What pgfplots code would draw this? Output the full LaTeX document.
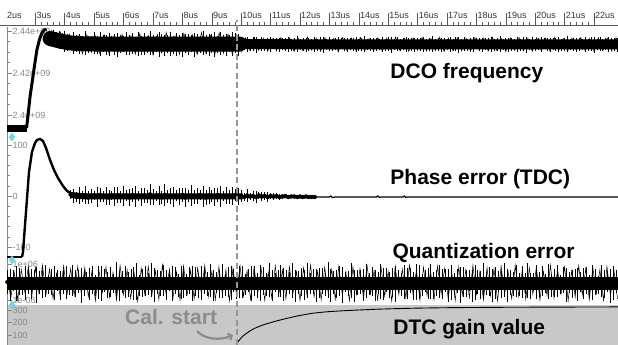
\documentclass[border=0pt]{standalone}
\usepackage{pgfplots}
\pgfplotsset{compat=1.18}
\usepackage{pgfplotstable}
\usepackage{fontspec}
\setmainfont{Liberation Sans}
\usetikzlibrary{arrows.meta}
\definecolor{tickgray}{RGB}{135,135,135}
\definecolor{panelgray}{RGB}{200,200,200}
\definecolor{dashgray}{RGB}{150,150,150}
\definecolor{calgray}{RGB}{140,140,140}
\definecolor{markcyan}{RGB}{110,215,230}

% DCO frequency (MHz): spikes, centre c, half-length e
\pgfplotstableread[row sep=\\]{
t c e\\
3.5 2437.4 2.5\\ 3.6 2436.9 3.8\\ 3.7 2436.3 3.2\\ 3.8 2435.7 4.5\\ 3.9 2435.3 3.6\\ 4.0 2435.0 5.0\\ 4.1 2434.7 4.1\\ 4.2 2434.4 3.4\\
4.3 2434.2 5.3\\ 4.4 2434.1 4.0\\ 4.5 2434.0 4.8\\ 4.6 2433.9 3.5\\ 4.7 2434.3 5.6\\ 4.8 2433.5 4.2\\ 4.9 2433.9 3.7\\ 5.0 2434.2 5.1\\
5.1 2433.4 4.4\\ 5.2 2433.8 5.9\\ 5.3 2434.0 3.9\\ 5.4 2433.3 4.7\\ 5.5 2433.7 5.4\\ 5.6 2434.1 3.6\\ 5.7 2433.6 4.9\\ 5.8 2433.2 5.7\\
5.9 2434.0 4.3\\ 6.0 2433.7 3.8\\ 6.1 2433.9 5.5\\ 6.2 2433.3 4.6\\ 6.3 2434.2 5.0\\ 6.4 2433.6 3.7\\ 6.5 2433.8 5.8\\ 6.6 2433.1 4.4\\
6.7 2434.0 5.2\\ 6.8 2433.5 4.0\\ 6.9 2434.3 5.6\\ 7.0 2433.4 4.7\\ 7.1 2433.9 3.9\\ 7.2 2433.6 6.0\\ 7.3 2434.1 4.5\\ 7.4 2433.2 5.1\\
7.5 2433.8 4.1\\ 7.6 2434.0 5.7\\ 7.7 2433.5 4.3\\ 7.8 2433.7 5.4\\ 7.9 2434.2 3.8\\ 8.0 2433.3 5.9\\ 8.1 2433.9 4.6\\ 8.2 2433.6 5.0\\
8.3 2434.1 4.2\\ 8.4 2433.4 5.6\\ 8.5 2433.8 4.8\\ 8.6 2433.5 3.9\\ 8.7 2434.3 5.8\\ 8.8 2433.6 4.4\\ 8.9 2433.2 5.3\\ 9.0 2434.0 4.7\\
9.1 2433.7 5.9\\ 9.2 2433.4 4.1\\ 9.3 2434.1 5.5\\ 9.4 2433.8 4.5\\ 9.5 2433.3 5.2\\ 9.6 2433.9 4.0\\ 9.7 2433.6 5.7\\ 9.8 2434.2 4.8\\
9.9 2433.5 5.3\\
10.0 2433.8 3.1\\ 10.1 2433.4 2.6\\ 10.2 2433.7 3.6\\ 10.3 2433.5 2.9\\ 10.4 2433.9 3.3\\ 10.5 2433.3 3.8\\ 10.6 2433.6 2.5\\ 10.7 2433.8 3.4\\
10.8 2433.4 3.0\\ 10.9 2433.7 2.8\\ 11.0 2433.5 3.7\\ 11.1 2433.9 2.6\\ 11.2 2433.6 3.2\\ 11.3 2433.3 3.5\\ 11.4 2433.8 2.9\\ 11.5 2433.5 3.0\\
11.6 2433.7 3.6\\ 11.7 2433.4 2.7\\ 11.8 2433.6 3.3\\ 11.9 2433.9 3.8\\ 12.0 2433.5 2.5\\ 12.1 2433.7 3.1\\ 12.2 2433.4 3.4\\ 12.3 2433.8 3.1\\
12.4 2433.4 2.6\\ 12.5 2433.7 3.6\\ 12.6 2433.5 2.9\\ 12.7 2433.9 3.3\\ 12.8 2433.3 3.8\\ 12.9 2433.6 2.5\\ 13.0 2433.8 3.4\\ 13.1 2433.4 3.0\\
13.2 2433.7 2.8\\ 13.3 2433.5 3.7\\ 13.4 2433.9 2.6\\ 13.5 2433.6 3.2\\ 13.6 2433.3 3.5\\ 13.7 2433.8 2.9\\ 13.8 2433.5 3.0\\ 13.9 2433.7 3.6\\
14.0 2433.4 2.7\\ 14.1 2433.6 3.3\\ 14.2 2433.9 3.8\\ 14.3 2433.5 2.5\\ 14.4 2433.7 3.1\\ 14.5 2433.4 3.4\\ 14.6 2433.8 3.1\\ 14.7 2433.4 2.6\\
14.8 2433.7 3.6\\ 14.9 2433.5 2.9\\ 15.0 2433.9 3.3\\ 15.1 2433.3 3.8\\ 15.2 2433.6 2.5\\ 15.3 2433.8 3.4\\ 15.4 2433.4 3.0\\ 15.5 2433.7 2.8\\
15.6 2433.5 3.7\\ 15.7 2433.9 2.6\\ 15.8 2433.6 3.2\\ 15.9 2433.3 3.5\\ 16.0 2433.8 2.9\\ 16.1 2433.5 3.0\\ 16.2 2433.7 3.6\\ 16.3 2433.4 2.7\\
16.4 2433.6 3.3\\ 16.5 2433.9 3.8\\ 16.6 2433.5 2.5\\ 16.7 2433.7 3.1\\ 16.8 2433.4 3.4\\ 16.9 2433.8 3.1\\ 17.0 2433.4 2.6\\ 17.1 2433.7 3.6\\
17.2 2433.5 2.9\\ 17.3 2433.9 3.3\\ 17.4 2433.3 3.8\\ 17.5 2433.6 2.5\\ 17.6 2433.8 3.4\\ 17.7 2433.4 3.0\\ 17.8 2433.7 2.8\\ 17.9 2433.5 3.7\\
18.0 2433.9 2.6\\ 18.1 2433.6 3.2\\ 18.2 2433.3 3.5\\ 18.3 2433.8 2.9\\ 18.4 2433.5 3.0\\ 18.5 2433.7 3.6\\ 18.6 2433.4 2.7\\ 18.7 2433.6 3.3\\
18.8 2433.9 3.8\\ 18.9 2433.5 2.5\\ 19.0 2433.7 3.1\\ 19.1 2433.4 3.4\\ 19.2 2433.8 3.1\\ 19.3 2433.4 2.6\\ 19.4 2433.7 3.6\\ 19.5 2433.5 2.9\\
19.6 2433.9 3.3\\ 19.7 2433.3 3.8\\ 19.8 2433.6 2.5\\ 19.9 2433.8 3.4\\ 20.0 2433.4 3.0\\ 20.1 2433.7 2.8\\ 20.2 2433.5 3.7\\ 20.3 2433.9 2.6\\
20.4 2433.6 3.2\\ 20.5 2433.3 3.5\\ 20.6 2433.8 2.9\\ 20.7 2433.5 3.0\\ 20.8 2433.7 3.6\\ 20.9 2433.4 2.7\\ 21.0 2433.6 3.3\\ 21.1 2433.9 3.8\\
21.2 2433.5 2.5\\ 21.3 2433.7 3.1\\ 21.4 2433.4 3.4\\ 21.5 2433.8 3.1\\ 21.6 2433.4 2.6\\ 21.7 2433.7 3.6\\ 21.8 2433.5 2.9\\ 21.9 2433.9 3.3\\
22.0 2433.3 3.8\\ 22.1 2433.6 2.5\\ 22.2 2433.8 3.4\\ 22.3 2433.4 3.0\\ 22.4 2433.7 2.8\\ 22.5 2433.5 3.7\\ 22.6 2433.9 2.6\\ 22.7 2433.6 3.2\\
22.8 2433.3 3.5\\
}\dcotab

% DCO frequency (MHz): in-between ripple
\pgfplotstableread[row sep=\\]{
t f\\
3.55 2440.6\\ 3.70 2433.1\\ 3.85 2439.4\\ 4.00 2430.8\\ 4.15 2438.6\\ 4.30 2429.7\\ 4.45 2437.6\\ 4.60 2429.1\\
4.75 2438.2\\ 4.90 2429.8\\ 5.05 2437.6\\ 5.20 2428.8\\ 5.35 2438.0\\ 5.50 2429.4\\ 5.65 2437.3\\ 5.80 2429.2\\
5.95 2438.4\\ 6.10 2429.9\\ 6.25 2437.7\\ 6.40 2429.0\\ 6.55 2438.8\\ 6.70 2429.6\\ 6.85 2437.8\\ 7.00 2428.6\\
7.15 2438.3\\ 7.30 2429.8\\ 7.45 2439.2\\ 7.60 2429.3\\ 7.75 2437.6\\ 7.90 2428.9\\ 8.05 2438.9\\ 8.20 2429.7\\
8.35 2438.1\\ 8.50 2428.8\\ 8.65 2439.3\\ 8.80 2429.5\\ 8.95 2437.8\\ 9.10 2428.6\\ 9.25 2439.1\\ 9.40 2429.4\\
9.55 2438.5\\ 9.70 2428.9\\ 9.85 2438.2\\ 10.00 2430.0\\ 10.15 2436.8\\ 10.30 2430.6\\ 10.45 2437.0\\ 10.60 2430.8\\
10.75 2436.6\\ 10.90 2430.3\\ 11.05 2436.3\\ 11.20 2430.5\\ 11.35 2436.9\\ 11.50 2430.7\\ 11.65 2436.7\\ 11.80 2430.2\\
11.95 2436.4\\ 12.10 2430.6\\ 12.25 2437.1\\ 12.40 2430.9\\ 12.55 2436.6\\ 12.70 2430.3\\ 12.85 2436.8\\ 13.00 2430.7\\
13.15 2436.5\\ 13.30 2430.1\\ 13.45 2436.9\\ 13.60 2430.6\\ 13.75 2436.6\\ 13.90 2430.8\\ 14.05 2437.0\\ 14.20 2430.4\\
14.35 2436.4\\ 14.50 2430.5\\ 14.65 2436.8\\ 14.80 2430.2\\ 14.95 2436.6\\ 15.10 2430.7\\ 15.25 2437.1\\ 15.40 2430.6\\
15.55 2436.5\\ 15.70 2430.3\\ 15.85 2436.7\\ 16.00 2430.8\\ 16.15 2436.9\\ 16.30 2430.4\\ 16.45 2436.4\\ 16.60 2430.6\\
16.75 2437.0\\ 16.90 2430.2\\ 17.05 2436.6\\ 17.20 2430.7\\ 17.35 2436.8\\ 17.50 2430.5\\ 17.65 2436.5\\ 17.80 2430.3\\
17.95 2436.9\\ 18.10 2430.8\\ 18.25 2436.6\\ 18.40 2430.4\\ 18.55 2437.0\\ 18.70 2430.6\\ 18.85 2436.4\\ 19.00 2430.2\\
19.15 2436.7\\ 19.30 2430.7\\ 19.45 2436.9\\ 19.60 2430.5\\ 19.75 2436.5\\ 19.90 2430.3\\ 20.05 2436.8\\ 20.20 2430.8\\
20.35 2436.6\\ 20.50 2430.4\\ 20.65 2437.0\\ 20.80 2430.6\\ 20.95 2436.5\\ 21.10 2430.2\\ 21.25 2436.7\\ 21.40 2430.7\\
21.55 2436.9\\ 21.70 2430.5\\ 21.85 2436.4\\ 22.00 2430.3\\ 22.15 2436.8\\ 22.30 2430.7\\ 22.45 2436.6\\ 22.60 2430.4\\
22.75 2436.9\\ 22.90 2430.6\\
}\dcozig

% Phase error (TDC): spikes, centre c, half-length e
\pgfplotstableread[row sep=\\]{
t c e\\
4.2 3 8\\ 4.3 0 13\\ 4.4 -2 9\\ 4.5 1 16\\ 4.6 -1 10\\ 4.7 2 18\\ 4.8 -3 12\\ 4.9 0 14\\ 5.0 1 9\\ 5.1 -2 20\\
5.2 2 13\\ 5.3 -1 10\\ 5.4 0 17\\ 5.5 -3 14\\ 5.6 1 8\\ 5.7 -1 18\\ 5.8 2 16\\ 5.9 -2 12\\ 6.0 0 20\\ 6.1 1 10\\
6.2 -3 16\\ 6.3 2 13\\ 6.4 -1 21\\ 6.5 0 9\\ 6.6 -2 17\\ 6.7 1 14\\ 6.8 -1 12\\ 6.9 3 20\\ 7.0 -2 16\\ 7.1 0 10\\
7.2 1 18\\ 7.3 -3 13\\ 7.4 2 21\\ 7.5 -1 12\\ 7.6 0 16\\ 7.7 -2 20\\ 7.8 1 10\\ 7.9 -1 17\\ 8.0 2 14\\ 8.1 -3 18\\
8.2 0 12\\ 8.3 1 21\\ 8.4 -2 13\\ 8.5 0 16\\ 8.6 2 10\\ 8.7 -1 20\\ 8.8 -3 14\\ 8.9 1 17\\ 9.0 0 12\\ 9.1 -2 18\\
9.2 2 13\\ 9.3 -1 21\\ 9.4 0 10\\ 9.5 1 16\\ 9.6 -2 14\\ 9.7 0 18\\ 9.8 2 12\\ 9.9 -1 17\\
10.0 0 11\\ 10.1 -2 8\\ 10.2 1 12\\ 10.3 -1 7\\ 10.4 0 10\\ 10.5 -2 11\\ 10.6 1 6\\ 10.7 -1 8\\ 10.8 0 7\\ 10.9 -2 9\\
11.0 0 6\\ 11.1 -1 7\\ 11.2 0 5\\ 11.3 -2 6\\ 11.4 -1 5\\ 11.5 0 4\\ 11.6 -2 4\\ 11.7 -1 3\\ 11.8 -1 2.5\\ 11.9 -2 3\\
12.0 -1 2\\ 12.1 -2 2.5\\ 12.2 -1 1.5\\ 12.3 -2 2\\ 12.4 -2 1.5\\ 12.5 -2 1\\
}\phtab

% Quantization error: spikes, centre c, half-length e
\pgfplotstableread[row sep=\\]{
t c e\\
2.05 0.05 0.62\\ 2.15 -0.10 0.85\\ 2.25 0.12 0.55\\ 2.35 -0.03 0.91\\ 2.45 0.08 0.70\\ 2.55 -0.14 0.48\\ 2.65 0.00 0.88\\ 2.75 0.10 0.66\\
2.85 -0.07 0.79\\ 2.95 0.14 0.52\\ 3.05 -0.12 0.94\\ 3.15 0.03 0.60\\ 3.25 -0.05 0.73\\ 3.35 0.11 0.83\\ 3.45 -0.09 0.50\\ 3.55 0.06 0.68\\
3.65 -0.01 0.90\\ 3.75 0.13 0.57\\ 3.85 -0.15 0.76\\ 3.95 0.04 0.64\\ 4.05 0.05 0.87\\ 4.15 -0.10 0.53\\ 4.25 0.12 0.81\\ 4.35 -0.03 0.71\\
4.45 0.08 0.59\\ 4.55 -0.14 0.93\\ 4.65 0.00 0.67\\ 4.75 0.10 0.49\\ 4.85 -0.07 0.84\\ 4.95 0.14 0.74\\ 5.05 -0.12 0.56\\ 5.15 0.03 0.89\\
5.25 -0.05 0.92\\ 5.35 0.11 0.61\\ 5.45 -0.09 0.69\\ 5.55 0.06 0.80\\ 5.65 -0.01 0.51\\ 5.75 0.13 0.95\\ 5.85 -0.15 0.78\\ 5.95 0.04 0.58\\
6.05 0.05 0.86\\ 6.15 -0.10 0.66\\ 6.25 0.12 0.63\\ 6.35 -0.03 0.87\\ 6.45 0.08 0.95\\ 6.55 -0.14 0.54\\ 6.65 0.00 0.72\\ 6.75 0.10 0.77\\
6.85 -0.07 0.58\\ 6.95 0.14 0.90\\ 7.05 -0.12 0.89\\ 7.15 0.03 0.63\\ 7.25 -0.05 0.66\\ 7.35 0.11 0.82\\ 7.45 -0.09 0.80\\ 7.55 0.06 0.50\\
7.65 -0.01 0.93\\ 7.75 0.13 0.72\\ 7.85 -0.15 0.61\\ 7.95 0.04 0.88\\ 8.05 0.05 0.85\\ 8.15 -0.10 0.59\\ 8.25 0.12 0.70\\ 8.35 -0.03 0.94\\
8.45 0.08 0.77\\ 8.55 -0.14 0.65\\ 8.65 0.00 0.90\\ 8.75 0.10 0.70\\ 8.85 -0.07 0.64\\ 8.95 0.14 0.86\\ 9.05 -0.12 0.83\\ 9.15 0.03 0.56\\
9.25 -0.05 0.74\\ 9.35 0.11 0.91\\ 9.45 -0.09 0.57\\ 9.55 0.06 0.78\\ 9.65 -0.01 0.91\\ 9.75 0.13 0.62\\ 9.85 -0.15 0.68\\ 9.95 0.04 0.84\\
10.05 0.05 0.86\\ 10.15 -0.10 0.55\\ 10.25 0.12 0.60\\ 10.35 -0.03 0.92\\ 10.45 0.08 0.79\\ 10.55 -0.14 0.67\\ 10.65 0.00 0.95\\ 10.75 0.10 0.73\\
10.85 -0.07 0.62\\ 10.95 0.14 0.89\\ 11.05 -0.12 0.82\\ 11.15 0.03 0.52\\ 11.25 -0.05 0.71\\ 11.35 0.11 0.85\\ 11.45 -0.09 0.88\\ 11.55 0.06 0.64\\
11.65 -0.01 0.58\\ 11.75 0.13 0.93\\ 11.85 -0.15 0.84\\ 11.95 0.04 0.60\\ 12.05 0.05 0.75\\ 12.15 -0.10 0.81\\ 12.25 0.12 0.92\\ 12.35 -0.03 0.57\\
12.45 0.08 0.65\\ 12.55 -0.14 0.88\\ 12.65 0.00 0.80\\ 12.75 0.10 0.69\\ 12.85 -0.07 0.59\\ 12.95 0.14 0.95\\ 13.05 -0.12 0.87\\ 13.15 0.03 0.61\\
13.25 -0.05 0.73\\ 13.35 0.11 0.79\\ 13.45 -0.09 0.94\\ 13.55 0.06 0.54\\ 13.65 -0.01 0.66\\ 13.75 0.13 0.90\\ 13.85 -0.15 0.83\\ 13.95 0.04 0.66\\
14.05 0.05 0.61\\ 14.15 -0.10 0.86\\ 14.25 0.12 0.90\\ 14.35 -0.03 0.58\\ 14.45 0.08 0.77\\ 14.55 -0.14 0.83\\ 14.65 0.00 0.56\\ 14.75 0.10 0.92\\
14.85 -0.07 0.85\\ 14.95 0.14 0.63\\ 15.05 -0.12 0.69\\ 15.15 0.03 0.77\\ 15.25 -0.05 0.93\\ 15.35 0.11 0.60\\ 15.45 -0.09 0.62\\ 15.55 0.06 0.89\\
15.65 -0.01 0.81\\ 15.75 0.13 0.68\\ 15.85 -0.15 0.74\\ 15.95 0.04 0.94\\ 16.05 0.05 0.89\\ 16.15 -0.10 0.56\\ 16.25 0.12 0.58\\ 16.35 -0.03 0.82\\
16.45 0.08 0.92\\ 16.55 -0.14 0.71\\ 16.65 0.00 0.67\\ 16.75 0.10 0.87\\ 16.85 -0.07 0.79\\ 16.95 0.14 0.59\\ 17.05 -0.12 0.86\\ 17.15 0.03 0.91\\
17.25 -0.05 0.60\\ 17.35 0.11 0.65\\ 17.45 -0.09 0.94\\ 17.55 0.06 0.80\\ 17.65 -0.01 0.72\\ 17.75 0.13 0.57\\ 17.85 -0.15 0.84\\ 17.95 0.04 0.93\\
18.05 0.05 0.63\\ 18.15 -0.10 0.74\\ 18.25 0.12 0.91\\ 18.35 -0.03 0.62\\ 18.45 0.08 0.76\\ 18.55 -0.14 0.88\\ 18.65 0.00 0.82\\ 18.75 0.10 0.55\\
18.85 -0.07 0.70\\ 18.95 0.14 0.90\\ 19.05 -0.12 0.87\\ 19.15 0.03 0.67\\ 19.25 -0.05 0.64\\ 19.35 0.11 0.84\\ 19.45 -0.09 0.62\\ 19.55 0.06 0.85\\
19.65 -0.01 0.55\\ 19.75 0.13 0.91\\ 19.85 -0.15 0.70\\ 19.95 0.04 0.48\\ 20.05 0.05 0.88\\ 20.15 -0.10 0.66\\ 20.25 0.12 0.79\\ 20.35 -0.03 0.52\\
20.45 0.08 0.94\\ 20.55 -0.14 0.60\\ 20.65 0.00 0.73\\ 20.75 0.10 0.83\\ 20.85 -0.07 0.50\\ 20.95 0.14 0.68\\ 21.05 -0.12 0.90\\ 21.15 0.03 0.57\\
21.25 -0.05 0.76\\ 21.35 0.11 0.64\\ 21.45 -0.09 0.87\\ 21.55 0.06 0.53\\ 21.65 -0.01 0.81\\ 21.75 0.13 0.71\\ 21.85 -0.15 0.59\\ 21.95 0.04 0.93\\
22.05 0.05 0.67\\ 22.15 -0.10 0.49\\ 22.25 0.12 0.84\\ 22.35 -0.03 0.74\\ 22.45 0.08 0.56\\ 22.55 -0.14 0.89\\ 22.65 0.00 0.92\\ 22.75 0.10 0.61\\
22.85 -0.07 0.69\\
}\qtab

% Quantization error: in-between ripple
\pgfplotstableread[row sep=\\]{
t q\\
2.04 0.62\\ 2.16 -0.85\\ 2.28 0.55\\ 2.40 -0.91\\ 2.52 0.70\\ 2.64 -0.48\\ 2.76 0.88\\ 2.88 -0.66\\
3.00 0.79\\ 3.12 -0.52\\ 3.24 0.94\\ 3.36 -0.60\\ 3.48 0.73\\ 3.60 -0.83\\ 3.72 0.50\\ 3.84 -0.68\\
3.96 0.90\\ 4.08 -0.57\\ 4.20 0.76\\ 4.32 -0.64\\ 4.44 0.87\\ 4.56 -0.53\\ 4.68 0.81\\ 4.80 -0.71\\
4.92 0.59\\ 5.04 -0.93\\ 5.16 0.67\\ 5.28 -0.49\\ 5.40 0.84\\ 5.52 -0.74\\ 5.64 0.56\\ 5.76 -0.89\\
5.88 0.92\\ 6.00 -0.61\\ 6.12 0.69\\ 6.24 -0.80\\ 6.36 0.51\\ 6.48 -0.95\\ 6.60 0.78\\ 6.72 -0.58\\
6.84 0.86\\ 6.96 -0.66\\ 7.08 0.63\\ 7.20 -0.87\\ 7.32 0.95\\ 7.44 -0.54\\ 7.56 0.72\\ 7.68 -0.77\\
7.80 0.58\\ 7.92 -0.90\\ 8.04 0.89\\ 8.16 -0.63\\ 8.28 0.66\\ 8.40 -0.82\\ 8.52 0.80\\ 8.64 -0.50\\
8.76 0.93\\ 8.88 -0.72\\ 9.00 0.61\\ 9.12 -0.88\\ 9.24 0.85\\ 9.36 -0.59\\ 9.48 0.70\\ 9.60 -0.94\\
9.72 0.77\\ 9.84 -0.65\\ 9.96 0.90\\ 10.08 -0.70\\ 10.20 0.64\\ 10.32 -0.86\\ 10.44 0.83\\ 10.56 -0.56\\
10.68 0.74\\ 10.80 -0.91\\ 10.92 0.57\\ 11.04 -0.78\\ 11.16 0.91\\ 11.28 -0.62\\ 11.40 0.68\\ 11.52 -0.84\\
11.64 0.86\\ 11.76 -0.55\\ 11.88 0.60\\ 12.00 -0.92\\ 12.12 0.79\\ 12.24 -0.67\\ 12.36 0.95\\ 12.48 -0.73\\
12.60 0.62\\ 12.72 -0.89\\ 12.84 0.82\\ 12.96 -0.52\\ 13.08 0.71\\ 13.20 -0.85\\ 13.32 0.88\\ 13.44 -0.64\\
13.56 0.58\\ 13.68 -0.93\\ 13.80 0.84\\ 13.92 -0.60\\ 14.04 0.75\\ 14.16 -0.81\\ 14.28 0.92\\ 14.40 -0.57\\
14.52 0.65\\ 14.64 -0.88\\ 14.76 0.80\\ 14.88 -0.69\\ 15.00 0.59\\ 15.12 -0.95\\ 15.24 0.87\\ 15.36 -0.61\\
15.48 0.73\\ 15.60 -0.79\\ 15.72 0.94\\ 15.84 -0.54\\ 15.96 0.66\\ 16.08 -0.90\\ 16.20 0.83\\ 16.32 -0.66\\
16.44 0.61\\ 16.56 -0.86\\ 16.68 0.90\\ 16.80 -0.58\\ 16.92 0.77\\ 17.04 -0.83\\ 17.16 0.56\\ 17.28 -0.92\\
17.40 0.85\\ 17.52 -0.63\\ 17.64 0.69\\ 17.76 -0.77\\ 17.88 0.93\\ 18.00 -0.60\\ 18.12 0.62\\ 18.24 -0.89\\
18.36 0.81\\ 18.48 -0.68\\ 18.60 0.74\\ 18.72 -0.94\\ 18.84 0.89\\ 18.96 -0.56\\ 19.08 0.58\\ 19.20 -0.82\\
19.32 0.92\\ 19.44 -0.71\\ 19.56 0.67\\ 19.68 -0.87\\ 19.80 0.79\\ 19.92 -0.59\\ 20.04 0.86\\ 20.16 -0.91\\
20.28 0.60\\ 20.40 -0.65\\ 20.52 0.94\\ 20.64 -0.80\\ 20.76 0.72\\ 20.88 -0.57\\ 21.00 0.84\\ 21.12 -0.93\\
21.24 0.63\\ 21.36 -0.74\\ 21.48 0.91\\ 21.60 -0.62\\ 21.72 0.76\\ 21.84 -0.88\\ 21.96 0.82\\ 22.08 -0.55\\
22.20 0.70\\ 22.32 -0.90\\ 22.44 0.87\\ 22.56 -0.67\\ 22.68 0.64\\ 22.80 -0.84\\
}\qzig

\pgfplotsset{
  panel/.style={
    scale only axis, width=611pt, xmin=2.034, xmax=22.816,
    anchor=south west,
    axis x line=none, axis y line*=left,
    axis line style={tickgray, line width=0.6pt},
    ytick align=inside,
    major tick length=5pt, minor tick length=3pt,
    tick style={tickgray, line width=0.5pt},
    yticklabel style={anchor=west, xshift=5pt, font=\fontsize{9}{9}\selectfont, text=tickgray, inner sep=0.5pt},
  },
  spikes/.style={black, only marks, mark=none, forget plot,
    error bars/.cd, y dir=both, y explicit, error mark=none,
    error bar style={black, line width=#1}},
}

\begin{document}
\begin{tikzpicture}
\useasboundingbox (0pt,0pt) rectangle (618pt,345pt);

% time ruler
\begin{axis}[scale only axis, width=618pt, height=10pt, at={(0pt,320pt)}, anchor=south west,
  xmin=1.796, xmax=22.816, ymin=0, ymax=1,
  axis y line=none, axis x line*=bottom,
  axis line style={black!65, line width=0.6pt},
  xtick={3,...,22},
  xticklabels={3us,4us,5us,6us,7us,8us,9us,10us,11us,12us,13us,14us,15us,16us,17us,18us,19us,20us,21us,22us},
  extra x ticks={2}, extra x tick labels={2us}, extra x tick style={major tick length=0pt},
  minor x tick num=4,
  xtick align=inside, major tick length=12pt, minor tick length=2.5pt,
  tick style={black!65, line width=0.6pt},
  xticklabel style={anchor=base west, yshift=6pt, xshift=0.5pt, inner sep=0.5pt, font=\fontsize{9}{9}\selectfont, text=black!80},
]
\addplot[draw=none] coordinates {(5,0.5)};
\end{axis}

% DCO frequency
\begin{axis}[panel, height=111pt, at={(7pt,207pt)}, ymin=2389.05, ymax=2441.9,
  ytick={2400,2420,2440}, yticklabels={2.4e+09,2.42e+09,2.44e+09}, minor y tick num=3]
\addplot[black, line width=7pt] coordinates {(2.0,2393.8)(2.72,2393.8)};
\addplot[black, line width=3pt, line join=round] coordinates {(2.70,2393.8)(2.75,2400)(2.82,2409)(2.89,2415.7)(2.97,2423.5)(3.05,2431)(3.14,2436)(3.22,2439)(3.30,2440.5)(3.38,2440.8)};
\addplot[black, line width=15pt, line join=round, line cap=round] coordinates {(3.50,2436.4)(3.7,2435.7)(3.9,2435.0)(4.2,2434.3)(4.6,2433.9)(5.5,2433.7)(7.5,2433.7)(9.95,2433.8)};
\addplot[black, line width=10pt] coordinates {(9.9,2433.7)(22.9,2433.6)};
\addplot[black, line width=0.5pt] table[x=t, y=f] {\dcozig};
\addplot[spikes=0.7pt] table[x=t, y=c, y error=e] {\dcotab};
\end{axis}

% Phase error
\begin{axis}[panel, height=122pt, at={(7pt,85pt)}, ymin=-125.5, ymax=113.7,
  ytick={-100,0,100}, yticklabels={-100,0,100}, minor y tick num=4]
\addplot[black, line width=1.5pt] coordinates {(2.0,-119.6)(2.56,-119.6)};
\addplot[black, line width=2.4pt, line join=round] coordinates {(2.544,-119.6)(2.578,-109.8)(2.680,-31.4)(2.782,47.1)(2.884,86.3)(2.986,103.9)(3.054,109.8)(3.156,111.8)(3.259,107.8)(3.361,94.1)(3.497,70.6)(3.633,51)(3.769,35.3)(3.939,19.6)(4.075,9.8)(4.245,3.9)(4.5,0.5)};
\addplot[black, line width=6pt, line join=round] coordinates {(4.2,2)(4.6,-0.5)(6,-1)(10.05,-1)};
\addplot[black, line width=3pt] coordinates {(10,-1)(11.5,-1.5)};
\addplot[black, line width=1.2pt] coordinates {(11.4,-1.5)(13.0,-2)(13.05,0)(13.1,-3)(13.2,-2)(14.6,-2)(14.65,0)(14.7,-3)(14.75,-2)(15.5,-2)(15.55,0)(15.6,-3)(15.65,-2)(22.9,-2)};
\addplot[spikes=0.7pt] table[x=t, y=c, y error=e] {\phtab};
\end{axis}

% Quantization error
\begin{axis}[panel, height=45pt, at={(7pt,40pt)}, ymin=-1.158, ymax=1.211,
  ytick={-0.92,0,1}, yticklabels={1e-06,0,1e+06}, minor y tick num=1]
\addplot[black, line width=13pt] coordinates {(2.0,0)(22.9,0)};
\addplot[black, line width=0.5pt] table[x=t, y=q] {\qzig};
\addplot[spikes=0.8pt] table[x=t, y=c, y error=e] {\qtab};
\end{axis}

% DTC gain value
\begin{axis}[panel, height=40pt, at={(7pt,0pt)}, ymin=23.1, ymax=330.8,
  axis background/.style={fill=panelgray},
  ytick={100,200,290}, yticklabels={100,200,300}, minor y tick num=1]
\addplot[black, line width=0.9pt, smooth, tension=0.4] coordinates {(9.83,15)(9.86,38)(9.95,65)(10.05,90)(10.2,116)(10.4,145)(10.75,178)(11.3,214)(11.9,246)(12.45,268)(13.0,280)(13.6,288)(14.7,299)(15.85,306)(17,310)(18.8,313)(21.3,315)(22.82,316)};
\end{axis}

% annotations
\begin{axis}[scale only axis, width=618pt, height=345pt, at={(0pt,0pt)}, anchor=south west,
  xmin=1.796, xmax=22.816, ymin=0, ymax=345, hide axis, clip=false]
\addplot[dashgray, line width=2.8pt, dash pattern=on 6pt off 3.5pt] coordinates {(9.857,0)(9.857,325)};
\addplot[only marks, mark=diamond*, mark size=4pt, markcyan] coordinates {(2.204,208)(2.204,85)(2.204,40)};
\node[anchor=base west, inner sep=0pt, font=\fontsize{21}{21}\selectfont\bfseries] at (axis cs:15.07,266) {DCO frequency};
\node[anchor=base west, inner sep=0pt, font=\fontsize{21}{21}\selectfont\bfseries] at (axis cs:15.07,160) {Phase error (TDC)};
\node[anchor=base west, inner sep=0pt, font=\fontsize{21}{21}\selectfont\bfseries] at (axis cs:15.14,86) {Quantization error};
\node[anchor=base west, inner sep=0pt, font=\fontsize{21}{21}\selectfont\bfseries] at (axis cs:15.17,10) {DTC gain value};
\node[anchor=base west, inner sep=0pt, text=calgray, font=\fontsize{21}{21}\selectfont\bfseries] at (axis cs:6.048,20) {Cal. start};
\draw[calgray, line width=2.2pt, -{Straight Barb[length=3pt,width=7pt]}] (axis cs:8.50,14) .. controls (axis cs:8.72,6) and (axis cs:9.28,4) .. (axis cs:9.72,10);
\end{axis}
\end{tikzpicture}
\end{document}
